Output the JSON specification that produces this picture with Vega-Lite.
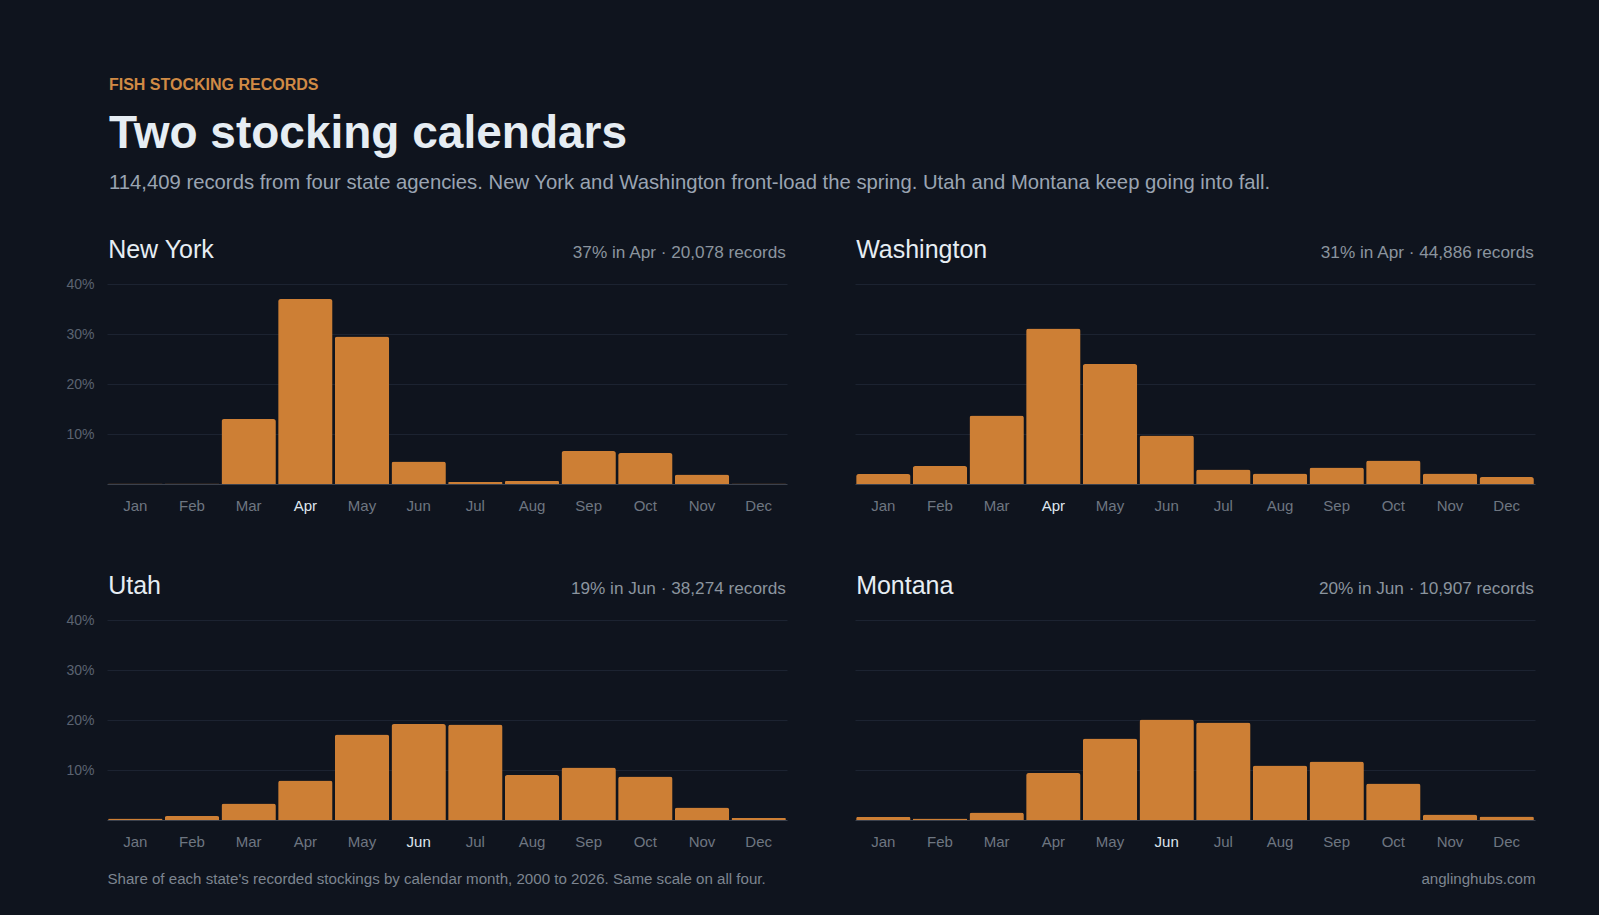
{
  "$schema": "https://vega.github.io/schema/vega-lite/v6.json",
  "background": "#0f141e",
  "padding": {"left": 65, "top": 76, "right": 64, "bottom": 29},
  "datasets": {
    "months": [
      {"state": "New York", "month": "Jan", "share": 0.1},
      {"state": "New York", "month": "Feb", "share": 0.1},
      {"state": "New York", "month": "Mar", "share": 13.0},
      {"state": "New York", "month": "Apr", "share": 37.0},
      {"state": "New York", "month": "May", "share": 29.5},
      {"state": "New York", "month": "Jun", "share": 4.5},
      {"state": "New York", "month": "Jul", "share": 0.4},
      {"state": "New York", "month": "Aug", "share": 0.6},
      {"state": "New York", "month": "Sep", "share": 6.6},
      {"state": "New York", "month": "Oct", "share": 6.2},
      {"state": "New York", "month": "Nov", "share": 1.9},
      {"state": "New York", "month": "Dec", "share": 0.1},
      {"state": "Washington", "month": "Jan", "share": 2.0},
      {"state": "Washington", "month": "Feb", "share": 3.6},
      {"state": "Washington", "month": "Mar", "share": 13.7},
      {"state": "Washington", "month": "Apr", "share": 31.1},
      {"state": "Washington", "month": "May", "share": 24.0},
      {"state": "Washington", "month": "Jun", "share": 9.7},
      {"state": "Washington", "month": "Jul", "share": 2.9},
      {"state": "Washington", "month": "Aug", "share": 2.1},
      {"state": "Washington", "month": "Sep", "share": 3.3},
      {"state": "Washington", "month": "Oct", "share": 4.7},
      {"state": "Washington", "month": "Nov", "share": 2.1},
      {"state": "Washington", "month": "Dec", "share": 1.4},
      {"state": "Utah", "month": "Jan", "share": 0.3},
      {"state": "Utah", "month": "Feb", "share": 0.8},
      {"state": "Utah", "month": "Mar", "share": 3.3},
      {"state": "Utah", "month": "Apr", "share": 7.9},
      {"state": "Utah", "month": "May", "share": 17.1},
      {"state": "Utah", "month": "Jun", "share": 19.2},
      {"state": "Utah", "month": "Jul", "share": 19.1},
      {"state": "Utah", "month": "Aug", "share": 9.0},
      {"state": "Utah", "month": "Sep", "share": 10.5},
      {"state": "Utah", "month": "Oct", "share": 8.7},
      {"state": "Utah", "month": "Nov", "share": 2.5},
      {"state": "Utah", "month": "Dec", "share": 0.4},
      {"state": "Montana", "month": "Jan", "share": 0.6},
      {"state": "Montana", "month": "Feb", "share": 0.3},
      {"state": "Montana", "month": "Mar", "share": 1.5},
      {"state": "Montana", "month": "Apr", "share": 9.4},
      {"state": "Montana", "month": "May", "share": 16.3},
      {"state": "Montana", "month": "Jun", "share": 20.1},
      {"state": "Montana", "month": "Jul", "share": 19.5},
      {"state": "Montana", "month": "Aug", "share": 10.9},
      {"state": "Montana", "month": "Sep", "share": 11.7},
      {"state": "Montana", "month": "Oct", "share": 7.3},
      {"state": "Montana", "month": "Nov", "share": 1.1},
      {"state": "Montana", "month": "Dec", "share": 0.7}
    ],
    "stats": [
      {"state": "New York", "stat": "37% in Apr · 20,078 records"},
      {"state": "Washington", "stat": "31% in Apr · 44,886 records"},
      {"state": "Utah", "stat": "19% in Jun · 38,274 records"},
      {"state": "Montana", "stat": "20% in Jun · 10,907 records"}
    ]
  },
  "title": {
    "text": "FISH STOCKING RECORDS",
    "anchor": "start",
    "frame": "bounds",
    "dx": 43,
    "fontSize": 16,
    "fontWeight": 600,
    "color": "#d08a45",
    "font": "Liberation Sans",
    "offset": 18
  },
  "vconcat": [
    {
      "title": {
        "text": "Two stocking calendars",
        "subtitle": "114,409 records from four state agencies. New York and Washington front-load the spring. Utah and Montana keep going into fall.",
        "anchor": "start",
        "frame": "bounds",
        "dx": 43,
        "fontSize": 46,
        "fontWeight": "bold",
        "color": "#e6edf3",
        "font": "Liberation Sans",
        "subtitleFont": "Liberation Sans",
        "subtitleFontSize": 20.3,
        "subtitleColor": "#9aa4b2",
        "subtitlePadding": 15,
        "offset": 44
      },
      "spacing": 61,
      "vconcat": [
        {
          "spacing": 68,
          "hconcat": [
            {
              "width": 680, "height": 200,
              "layer": [
                {
                  "data": {"name": "months"},
                  "transform": [{"filter": "datum.state === 'New York'"}],
                  "mark": {"type": "bar", "color": "#cd7f35", "cornerRadiusTopLeft": 2.5, "cornerRadiusTopRight": 2.5},
                  "encoding": {
                    "x": {"field": "month", "type": "ordinal", "sort": ["Jan","Feb","Mar","Apr","May","Jun","Jul","Aug","Sep","Oct","Nov","Dec"],
                      "scale": {"domain": ["Jan","Feb","Mar","Apr","May","Jun","Jul","Aug","Sep","Oct","Nov","Dec"], "paddingInner": 0.04, "paddingOuter": 0.02},
                      "axis": {"title": null, "labelColor": {"condition": {"test": "datum.label === 'Apr'", "value": "#dfe6ee"}, "value": "#6e7681"}}},
                    "y": {"field": "share", "type": "quantitative", "scale": {"domain": [0, 40]}, "axis": {"title": null, "values": [10, 20, 30, 40]}}
                  }
                },
                {
                  "data": {"name": "stats"},
                  "transform": [{"filter": "datum.state === 'New York'"}],
                  "mark": {"type": "text", "align": "left", "baseline": "alphabetic", "dy": -26, "fontSize": 25, "fontWeight": 500, "color": "#e6edf3", "font": "Liberation Sans"},
                  "encoding": {
                    "x": {"datum": "Jan", "type": "ordinal", "bandPosition": 0},
                    "y": {"datum": 40, "type": "quantitative"},
                    "text": {"field": "state"}
                  }
                },
                {
                  "data": {"name": "stats"},
                  "transform": [{"filter": "datum.state === 'New York'"}],
                  "mark": {"type": "text", "align": "right", "baseline": "alphabetic", "dy": -26, "fontSize": 17.2, "color": "#8b949e", "font": "Liberation Sans"},
                  "encoding": {
                    "x": {"datum": "Dec", "type": "ordinal", "bandPosition": 1},
                    "y": {"datum": 40, "type": "quantitative"},
                    "text": {"field": "stat"}
                  }
                }
              ]
            },
            {
              "width": 680, "height": 200,
              "layer": [
                {
                  "data": {"name": "months"},
                  "transform": [{"filter": "datum.state === 'Washington'"}],
                  "mark": {"type": "bar", "color": "#cd7f35", "cornerRadiusTopLeft": 2.5, "cornerRadiusTopRight": 2.5},
                  "encoding": {
                    "x": {"field": "month", "type": "ordinal", "sort": ["Jan","Feb","Mar","Apr","May","Jun","Jul","Aug","Sep","Oct","Nov","Dec"],
                      "scale": {"domain": ["Jan","Feb","Mar","Apr","May","Jun","Jul","Aug","Sep","Oct","Nov","Dec"], "paddingInner": 0.04, "paddingOuter": 0.02},
                      "axis": {"title": null, "labelColor": {"condition": {"test": "datum.label === 'Apr'", "value": "#dfe6ee"}, "value": "#6e7681"}}},
                    "y": {"field": "share", "type": "quantitative", "scale": {"domain": [0, 40]}, "axis": {"title": null, "labels": false, "values": [10, 20, 30, 40]}}
                  }
                },
                {
                  "data": {"name": "stats"},
                  "transform": [{"filter": "datum.state === 'Washington'"}],
                  "mark": {"type": "text", "align": "left", "baseline": "alphabetic", "dy": -26, "fontSize": 25, "fontWeight": 500, "color": "#e6edf3", "font": "Liberation Sans"},
                  "encoding": {
                    "x": {"datum": "Jan", "type": "ordinal", "bandPosition": 0},
                    "y": {"datum": 40, "type": "quantitative"},
                    "text": {"field": "state"}
                  }
                },
                {
                  "data": {"name": "stats"},
                  "transform": [{"filter": "datum.state === 'Washington'"}],
                  "mark": {"type": "text", "align": "right", "baseline": "alphabetic", "dy": -26, "fontSize": 17.2, "color": "#8b949e", "font": "Liberation Sans"},
                  "encoding": {
                    "x": {"datum": "Dec", "type": "ordinal", "bandPosition": 1},
                    "y": {"datum": 40, "type": "quantitative"},
                    "text": {"field": "stat"}
                  }
                }
              ]
            }
          ]
        },
        {
          "spacing": 68,
          "hconcat": [
            {
              "width": 680, "height": 200,
              "layer": [
                {
                  "data": {"name": "months"},
                  "transform": [{"filter": "datum.state === 'Utah'"}],
                  "mark": {"type": "bar", "color": "#cd7f35", "cornerRadiusTopLeft": 2.5, "cornerRadiusTopRight": 2.5},
                  "encoding": {
                    "x": {"field": "month", "type": "ordinal", "sort": ["Jan","Feb","Mar","Apr","May","Jun","Jul","Aug","Sep","Oct","Nov","Dec"],
                      "scale": {"domain": ["Jan","Feb","Mar","Apr","May","Jun","Jul","Aug","Sep","Oct","Nov","Dec"], "paddingInner": 0.04, "paddingOuter": 0.02},
                      "axis": {"title": "Share of each state's recorded stockings by calendar month, 2000 to 2026. Same scale on all four.", "titleAnchor": "start", "titleAlign": "left",
                        "labelColor": {"condition": {"test": "datum.label === 'Jun'", "value": "#dfe6ee"}, "value": "#6e7681"}}},
                    "y": {"field": "share", "type": "quantitative", "scale": {"domain": [0, 40]}, "axis": {"title": null, "values": [10, 20, 30, 40]}}
                  }
                },
                {
                  "data": {"name": "stats"},
                  "transform": [{"filter": "datum.state === 'Utah'"}],
                  "mark": {"type": "text", "align": "left", "baseline": "alphabetic", "dy": -26, "fontSize": 25, "fontWeight": 500, "color": "#e6edf3", "font": "Liberation Sans"},
                  "encoding": {
                    "x": {"datum": "Jan", "type": "ordinal", "bandPosition": 0},
                    "y": {"datum": 40, "type": "quantitative"},
                    "text": {"field": "state"}
                  }
                },
                {
                  "data": {"name": "stats"},
                  "transform": [{"filter": "datum.state === 'Utah'"}],
                  "mark": {"type": "text", "align": "right", "baseline": "alphabetic", "dy": -26, "fontSize": 17.2, "color": "#8b949e", "font": "Liberation Sans"},
                  "encoding": {
                    "x": {"datum": "Dec", "type": "ordinal", "bandPosition": 1},
                    "y": {"datum": 40, "type": "quantitative"},
                    "text": {"field": "stat"}
                  }
                }
              ]
            },
            {
              "width": 680, "height": 200,
              "layer": [
                {
                  "data": {"name": "months"},
                  "transform": [{"filter": "datum.state === 'Montana'"}],
                  "mark": {"type": "bar", "color": "#cd7f35", "cornerRadiusTopLeft": 2.5, "cornerRadiusTopRight": 2.5},
                  "encoding": {
                    "x": {"field": "month", "type": "ordinal", "sort": ["Jan","Feb","Mar","Apr","May","Jun","Jul","Aug","Sep","Oct","Nov","Dec"],
                      "scale": {"domain": ["Jan","Feb","Mar","Apr","May","Jun","Jul","Aug","Sep","Oct","Nov","Dec"], "paddingInner": 0.04, "paddingOuter": 0.02},
                      "axis": {"title": "anglinghubs.com", "titleAnchor": "end", "titleAlign": "right",
                        "labelColor": {"condition": {"test": "datum.label === 'Jun'", "value": "#dfe6ee"}, "value": "#6e7681"}}},
                    "y": {"field": "share", "type": "quantitative", "scale": {"domain": [0, 40]}, "axis": {"title": null, "labels": false, "values": [10, 20, 30, 40]}}
                  }
                },
                {
                  "data": {"name": "stats"},
                  "transform": [{"filter": "datum.state === 'Montana'"}],
                  "mark": {"type": "text", "align": "left", "baseline": "alphabetic", "dy": -26, "fontSize": 25, "fontWeight": 500, "color": "#e6edf3", "font": "Liberation Sans"},
                  "encoding": {
                    "x": {"datum": "Jan", "type": "ordinal", "bandPosition": 0},
                    "y": {"datum": 40, "type": "quantitative"},
                    "text": {"field": "state"}
                  }
                },
                {
                  "data": {"name": "stats"},
                  "transform": [{"filter": "datum.state === 'Montana'"}],
                  "mark": {"type": "text", "align": "right", "baseline": "alphabetic", "dy": -26, "fontSize": 17.2, "color": "#8b949e", "font": "Liberation Sans"},
                  "encoding": {
                    "x": {"datum": "Dec", "type": "ordinal", "bandPosition": 1},
                    "y": {"datum": 40, "type": "quantitative"},
                    "text": {"field": "stat"}
                  }
                }
              ]
            }
          ]
        }
      ]
    }
  ],
  "config": {
    "font": "Liberation Sans",
    "view": {"stroke": null},
    "axisX": {
      "domain": true, "domainColor": "#3b414d", "domainWidth": 1,
      "ticks": false, "grid": false,
      "labelFont": "Liberation Sans", "labelFontSize": 15, "labelPadding": 14, "labelAngle": 0,
      "titleFont": "Liberation Sans", "titleFontSize": 15.1, "titleFontWeight": "normal", "titleColor": "#7d8590", "titlePadding": 22
    },
    "axisY": {
      "domain": false, "ticks": false, "grid": true, "gridColor": "#1c2331", "gridWidth": 1,
      "labelExpr": "datum.value + '%'",
      "labelFont": "Liberation Sans", "labelFontSize": 14, "labelColor": "#5b6371", "labelPadding": 13
    }
  }
}
